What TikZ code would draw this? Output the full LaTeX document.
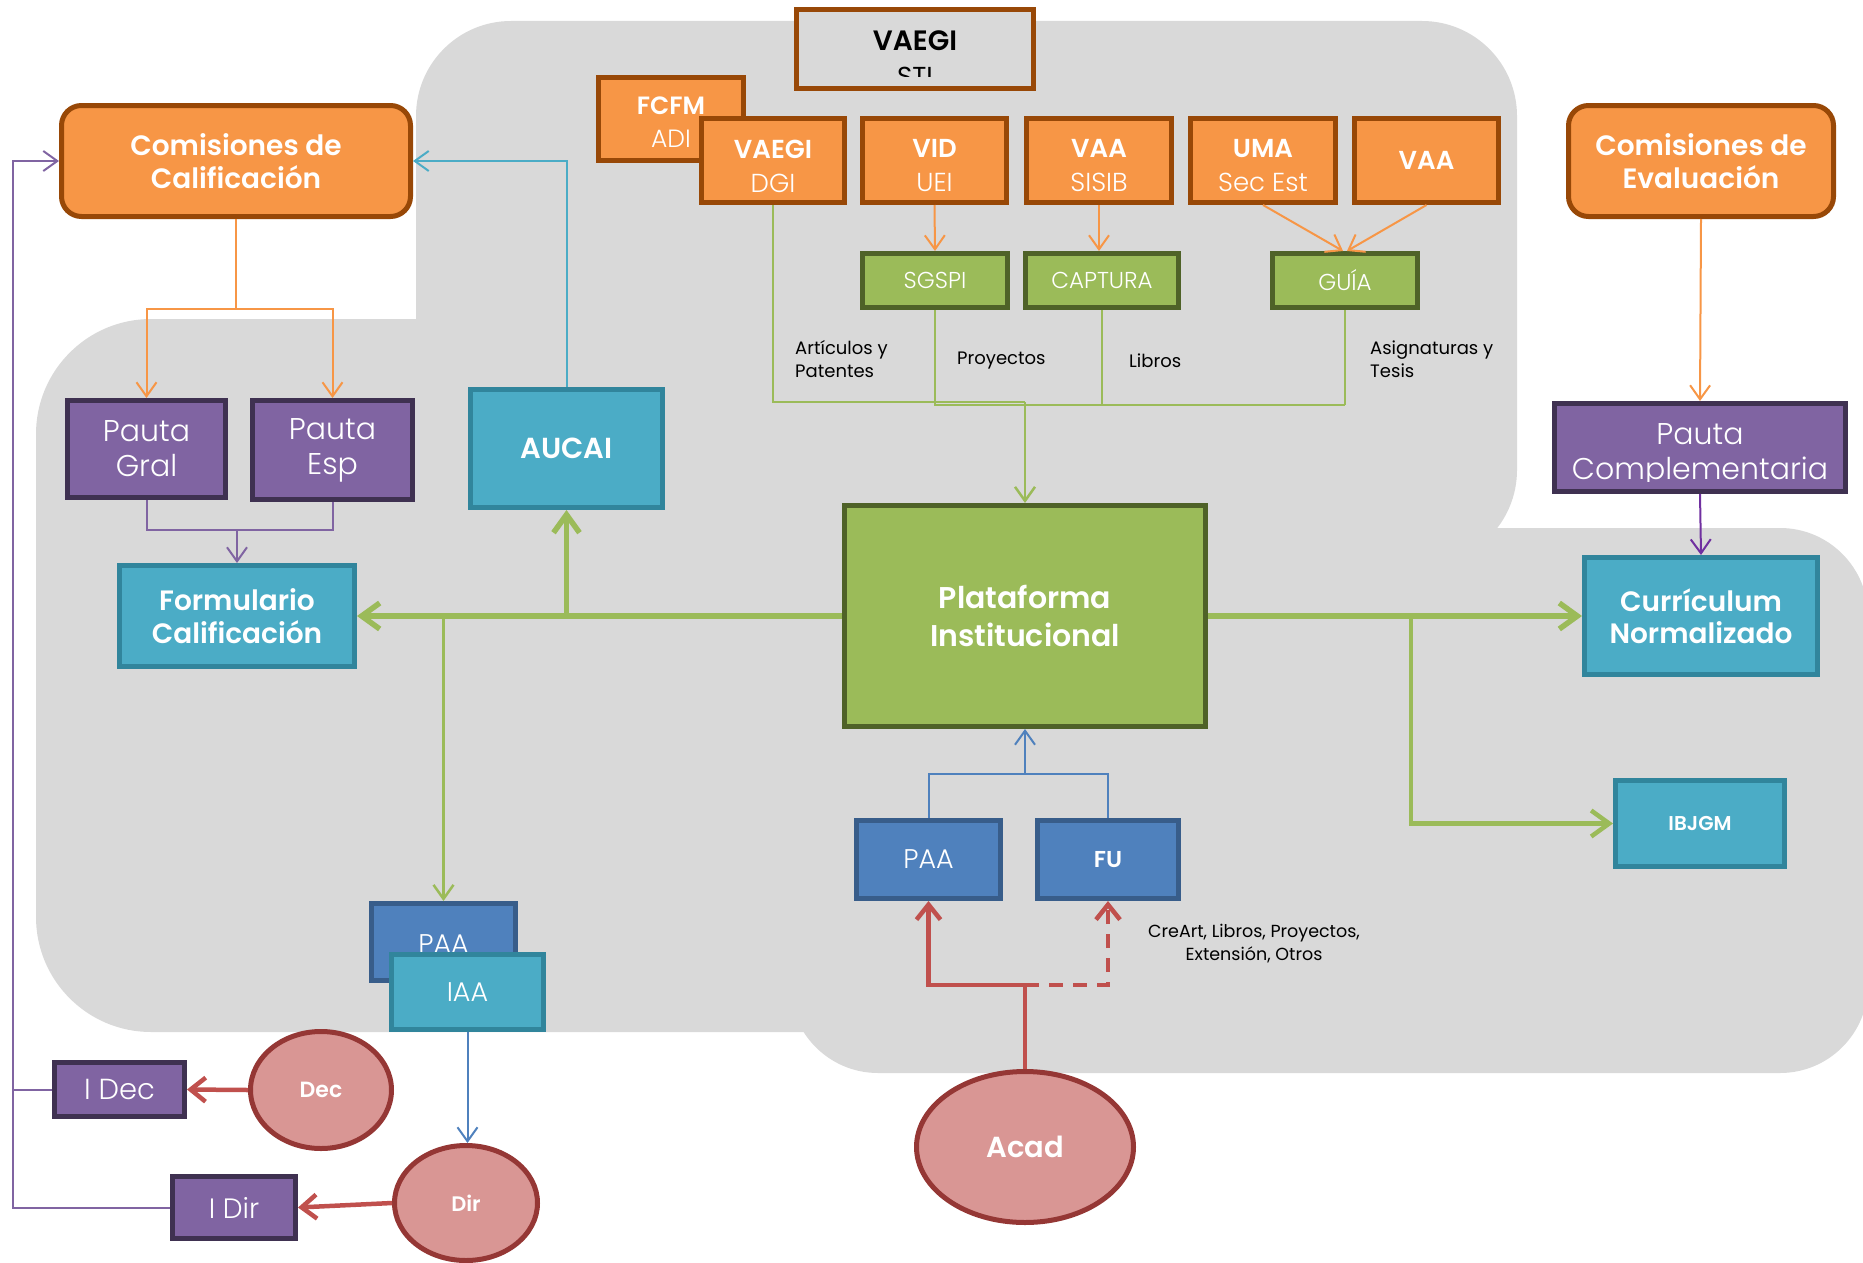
\documentclass[tikz,border=0pt]{standalone}
\usepackage{fontspec}
\setmainfont{Poppins}
\newfontfamily\lightfont{Poppins Light}
\newfontfamily\sbfont{Poppins SemiBold}
\usetikzlibrary{arrows.meta,shapes.geometric}
\definecolor{bggray}{HTML}{D9D9D9}
\definecolor{orfill}{HTML}{F79646}
\definecolor{ordraw}{HTML}{984807}
\definecolor{grfill}{HTML}{9BBB59}
\definecolor{grdraw}{HTML}{4F6228}
\definecolor{tlfill}{HTML}{4BACC6}
\definecolor{tldraw}{HTML}{31859C}
\definecolor{pufill}{HTML}{8064A2}
\definecolor{pudraw}{HTML}{3F3151}
\definecolor{blfill}{HTML}{4F81BD}
\definecolor{bldraw}{HTML}{385D8A}
\definecolor{pkfill}{HTML}{D99694}
\definecolor{pkdraw}{HTML}{953735}
\definecolor{redline}{HTML}{C0504D}
\definecolor{deeppurple}{HTML}{7030A0}
\tikzset{
  basebox/.style={line width=5pt, inner sep=0pt, align=center, text=white},
  orbox/.style={basebox, draw=ordraw, fill=orfill},
  grbox/.style={basebox, draw=grdraw, fill=grfill},
  tlbox/.style={basebox, draw=tldraw, fill=tlfill},
  pubox/.style={basebox, draw=pudraw, fill=pufill},
  blbox/.style={basebox, draw=bldraw, fill=blfill},
  pkell/.style={basebox, ellipse, draw=pkdraw, fill=pkfill},
  wtxt/.style={inner sep=0pt, align=center, text=white},
  thintip/.style={-{Straight Barb[length=14pt,width=20pt]}},
  thicktip/.style={-{Straight Barb[length=18pt,width=26pt]}},
  redtip/.style={-{Straight Barb[length=15pt,width=24pt]}},
  orline/.style={draw=orfill, line width=2pt},
  puline/.style={draw=pufill, line width=2pt},
  tlline/.style={draw=tlfill, line width=2pt},
  blline/.style={draw=blfill, line width=2pt},
  grline/.style={draw=grfill, line width=2.5pt},
  grthick/.style={draw=grfill, line width=5.5pt},
  rdline/.style={draw=redline, line width=4.5pt},
  lbl/.style={inner sep=0pt, text=black, font=\fontsize{18}{23}\selectfont},
}
\begin{document}
\begin{tikzpicture}[x=1pt,y=-1pt]
\useasboundingbox (0,0) rectangle (1863,1263);
% gray backgrounds
\fill[bggray, rounded corners=95] (416,21) rectangle (1517,565);
\fill[bggray, rounded corners=115] (36,319) rectangle (1100,1032);
\fill[bggray, rounded corners=88] (790,528) rectangle (1868,1073);

% top boxes
\node[draw=ordraw, fill=bggray, line width=5pt, minimum width=237, minimum height=79] (sti) at (915,49) {};
\node[inner sep=0pt, text=black, font=\fontsize{28}{30}\selectfont\sbfont] (stiA) at (915,41) {VAEGI};
\begin{scope}
\clip (800,12) rectangle (1030,77);
\node[inner sep=0pt, text=black, font=\fontsize{26}{30}\selectfont] (stiB) at (915,76) {STI};
\end{scope}

\node[orbox, minimum width=145, minimum height=83] (fcfm) at (671,119) {};
\node[wtxt, font=\fontsize{25}{33}\selectfont] (fcfmT) at (671,122) {{\sbfont FCFM}\\{\lightfont ADI}};
\node[orbox, minimum width=143, minimum height=84] (vdgi) at (773,160.5) {};
\node[wtxt, font=\fontsize{26}{34}\selectfont] (vdgiT) at (773,166) {{\sbfont VAEGI}\\{\lightfont DGI}};
\node[orbox, minimum width=144, minimum height=84] (vid) at (934.5,160.5) {};
\node[wtxt, font=\fontsize{26}{34}\selectfont] (vidT) at (934.5,166) {{\sbfont VID}\\{\lightfont UEI}};
\node[orbox, minimum width=145, minimum height=84] (vaaA) at (1099,160.5) {};
\node[wtxt, font=\fontsize{26}{34}\selectfont] (vaaAT) at (1099,166) {{\sbfont VAA}\\{\lightfont SISIB}};
\node[orbox, minimum width=145, minimum height=84] (uma) at (1263,160.5) {};
\node[wtxt, font=\fontsize{26}{34}\selectfont] (umaT) at (1263,166) {{\sbfont UMA}\\{\lightfont Sec Est}};
\node[orbox, minimum width=144, minimum height=84, font=\fontsize{26}{34}\selectfont\sbfont] (vaaB) at (1426.5,160.5) {VAA};

\node[grbox, minimum width=145, minimum height=54, font=\fontsize{23}{28}\selectfont\lightfont] (sgspi) at (935,280.5) {SGSPI};
\node[grbox, minimum width=153, minimum height=54, font=\fontsize{23}{28}\selectfont\lightfont] (capt) at (1102,280.5) {CAPTURA};
\node[grbox, minimum width=145, minimum height=54, font=\fontsize{23}{28}\selectfont\lightfont] (guia) at (1345,280.5) {GUÍA};

% left side
\node[orbox, rounded corners=20, minimum width=349, minimum height=111, font=\fontsize{28}{33}\selectfont\sbfont] (comcal) at (236,161) {Comisiones de\\Calificación};
\node[pubox, minimum width=158, minimum height=97, font=\fontsize{30}{35}\selectfont\lightfont] (pgral) at (146.5,449) {Pauta\\Gral};
\node[pubox, minimum width=160, minimum height=99, font=\fontsize{30}{35}\selectfont\lightfont] (pesp) at (332.5,450) {Pauta\\Esp};
\node[tlbox, minimum width=235, minimum height=101, font=\fontsize{28}{33}\selectfont\sbfont] (form) at (237,616) {Formulario\\Calificación};
\node[tlbox, minimum width=192, minimum height=118, font=\fontsize{29}{33}\selectfont\sbfont] (aucai) at (566.5,448.5) {AUCAI};

% center
\node[grbox, minimum width=361, minimum height=221, font=\fontsize{30}{38}\selectfont\sbfont] (plat) at (1025,616) {Plataforma\\Institucional};
\node[blbox, minimum width=144, minimum height=78, font=\fontsize{27}{30}\selectfont\lightfont] (paa) at (928.5,859.5) {PAA};
\node[blbox, minimum width=141, minimum height=78, font=\fontsize{23}{30}\selectfont\sbfont] (fu) at (1108,859.5) {FU};
\node[pkell, minimum width=217, minimum height=151, font=\fontsize{29}{33}\selectfont\sbfont] (acad) at (1025,1147) {Acad};

% right side
\node[orbox, rounded corners=20, minimum width=265, minimum height=111, font=\fontsize{28}{33}\selectfont\sbfont] (comev) at (1701,161) {Comisiones de\\Evaluación};
\node[pubox, minimum width=291, minimum height=88] (pcomp) at (1700,447.5) {};
\begin{scope}
\clip (1555,405) rectangle (1845,481);
\node[wtxt, font=\fontsize{30}{35}\selectfont\lightfont] (pcompT) at (1700,455) {Pauta\\Complementaria};
\end{scope}
\node[tlbox, minimum width=233, minimum height=117, font=\fontsize{28}{32}\selectfont\sbfont] (curr) at (1701,616) {Currículum\\Normalizado};
\node[tlbox, minimum width=169, minimum height=86, font=\fontsize{20}{24}\selectfont\sbfont] (ibjgm) at (1700,823.5) {IBJGM};

% bottom left
\node[blbox, minimum width=144, minimum height=77] (paaL) at (443.5,942) {};
\node[wtxt, font=\fontsize{27}{30}\selectfont\lightfont] (paaLT) at (443.5,944) {PAA};
\node[tlbox, minimum width=152, minimum height=75, font=\fontsize{27}{30}\selectfont\lightfont] (iaa) at (467.5,992) {IAA};
\node[pubox, minimum width=130, minimum height=54, font=\fontsize{29}{32}\selectfont\lightfont] (idec) at (119.5,1089.5) {I Dec};
\node[pubox, minimum width=123, minimum height=62, font=\fontsize{28}{32}\selectfont\lightfont] (idir) at (234,1207.5) {I Dir};
\node[pkell, minimum width=141, minimum height=117, font=\fontsize{22}{26}\selectfont\sbfont] (dec) at (321,1090) {Dec};
\node[pkell, minimum width=143, minimum height=115, font=\fontsize{21}{26}\selectfont\sbfont] (dir) at (466,1203) {Dir};

% labels
\node[lbl, anchor=west, align=left] (l1) at (795,359) {Artículos y\\Patentes};
\node[lbl, anchor=west] (l2) at (957,361) {Proyectos};
\node[lbl, anchor=west] (l3) at (1129,361) {Libros};
\node[lbl, anchor=west, align=left] (l4) at (1370,359) {Asignaturas y\\Tesis};
\node[lbl, align=center, font=\fontsize{17.5}{23}\selectfont] (l5) at (1254,944) {CreArt, Libros, Proyectos,\\Extensión, Otros};

% connectors: left
\coordinate (j1) at (236,309);
\draw[orline] (comcal.south) -- (j1);
\draw[orline, thintip] (j1) -| (pgral.north);
\draw[orline, thintip] (j1) -| (pesp.north);
\coordinate (j2) at (237,530);
\draw[puline] (pgral.south) |- (j2);
\draw[puline] (pesp.south) |- (j2);
\draw[puline, thintip] (j2) -- (form.north);
\draw[tlline, thintip] (aucai.north) |- (comcal.east);

% green main
\draw[grthick, thicktip] (plat.west) -- (form.east);
\coordinate (ja) at (aucai.south |- plat.west);
\draw[grthick, thicktip] (ja) -- (aucai.south);
\coordinate (jp) at (paaL.north |- plat.west);
\draw[grline, thintip] (jp) -- (paaL.north);
\draw[grthick, thicktip] (plat.east) -- (curr.west);
\coordinate (jb) at (1411,616);
\draw[grthick, line width=4.5pt, thicktip] (jb) |- (ibjgm.west);

% right column
\draw[orline, thintip] (comev.south) -- (pcomp.north);
\draw[draw=deeppurple, line width=2pt, thintip] (pcomp.south) -- (curr.north);

% top
\draw[orline, thintip] (vid.south) -- (sgspi.north);
\draw[orline, thintip] (vaaA.south) -- (vaaA.south |- capt.north);
\draw[orline, thintip] (uma.south) -- ([xshift=-2pt]guia.north);
\draw[orline, thintip] (vaaB.south) -- ([xshift=2pt]guia.north);
\coordinate (k1) at (1025,402);
\coordinate (k3) at (1345,405);
\draw[grline] (vdgi.south) |- (k1);
\draw[grline] (sgspi.south) |- (k3);
\draw[grline] (capt.south) -- (capt.south |- k3);
\draw[grline] (guia.south) -- (k3);
\draw[grline, thintip] (k1) -- (plat.north);

% bottom center
\coordinate (k4) at (1025,774);
\draw[blline] (paa.north) |- (k4);
\draw[blline] (fu.north) |- (k4);
\draw[blline, thintip] (k4) -- (plat.south);
\coordinate (k5) at (1025,985);
\draw[rdline] (acad.north) -- (k5);
\draw[rdline, redtip] (k5) -| (paa.south);
\draw[rdline, dash pattern=on 14pt off 10pt, redtip] (k5) -| (fu.south);

% bottom left
\draw[blline, thintip] (iaa.south) -- (iaa.south |- dir.north);
\draw[rdline, redtip] (dec.west) -- (idec.east);
\draw[rdline, redtip] (dir.west) -- (idir.east);
\coordinate (k6) at (13,1207.5);
\draw[puline] (idec.west) -- (idec.west -| k6);
\draw[puline, thintip] (idir.west) -- (k6) |- (comcal.west);
\end{tikzpicture}
\end{document}
